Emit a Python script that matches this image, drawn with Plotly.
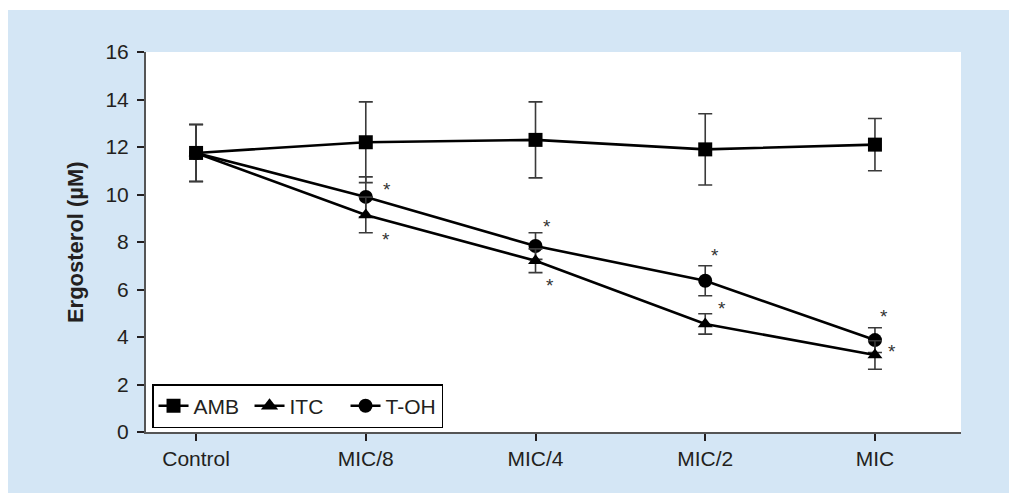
import plotly.graph_objects as go

# Treatment levels on the x axis
categories = ["Control", "MIC/8", "MIC/4", "MIC/2", "MIC"]
x_pos = list(range(len(categories)))

# Ergosterol (µM), mean ± SD per treatment
amb_mean = [11.75, 12.2, 12.3, 11.9, 12.1]
amb_sd = [1.2, 1.7, 1.6, 1.5, 1.1]

itc_mean = [11.75, 9.14, 7.21, 4.55, 3.24]
itc_sd = [1.2, 0.75, 0.5, 0.43, 0.6]

toh_mean = [11.75, 9.9, 7.83, 6.37, 3.87]
toh_sd = [1.2, 0.84, 0.56, 0.63, 0.52]

y_ticks = [0, 2, 4, 6, 8, 10, 12, 14, 16]

FONT = "Liberation Sans, Arial, Helvetica, sans-serif"
BG_BLUE = "#d4e6f5"
INK = "#231f20"

fig = go.Figure()


def add_series(name, mean, sd, symbol, size, legend_size, rank):
    fig.add_trace(go.Scatter(
        x=x_pos, y=mean, name=name, mode="lines+markers",
        line=dict(color="black", width=2.6),
        marker=dict(symbol=symbol, size=size, color="black"),
        error_y=dict(type="data", array=sd, visible=True,
                     color="#3a3a3a", thickness=1.6, width=7),
        showlegend=False,
    ))
    # legend entry with its own symbol size
    fig.add_trace(go.Scatter(
        x=[None], y=[None], name=name, mode="lines+markers",
        line=dict(color="black", width=2.6),
        marker=dict(symbol=symbol, size=legend_size, color="black"),
        legendrank=rank, hoverinfo="skip",
    ))


add_series("T-OH", toh_mean, toh_sd, "circle", 14, 14, 3)
add_series("ITC", itc_mean, itc_sd, "triangle-up", 13, 15, 2)
add_series("AMB", amb_mean, amb_sd, "square", 14, 14, 1)

# Significance markers beside the ITC and T-OH points (treated doses only)
toh_star_shift = [(21, 11), (11, 24), (10, 29), (9, 28)]
itc_star_shift = [(20, -21), (14, -21), (17, 19), (17, 8)]
for i, (dx, dy) in enumerate(toh_star_shift, start=1):
    fig.add_annotation(x=x_pos[i], y=toh_mean[i], text="*", showarrow=False,
                       xshift=dx, yshift=dy - 4,
                       font=dict(family=FONT, size=19, color="#333333"))
for i, (dx, dy) in enumerate(itc_star_shift, start=1):
    fig.add_annotation(x=x_pos[i], y=itc_mean[i], text="*", showarrow=False,
                       xshift=dx, yshift=dy - 4,
                       font=dict(family=FONT, size=19, color="#333333"))

# Y-axis title
fig.add_annotation(x=-0.087, y=0.5, xref="paper", yref="paper",
                   xanchor="center", yanchor="middle",
                   text="<b>Ergosterol (µM)</b>", textangle=-90,
                   showarrow=False,
                   font=dict(family=FONT, size=22, color=INK))

# White strips at the top and left edge of the panel
fig.add_shape(type="rect", xref="paper", yref="paper",
              x0=-0.2, x1=1.1, y0=1.1105, y1=1.2,
              fillcolor="white", line=dict(width=0), layer="below")
fig.add_shape(type="rect", xref="paper", yref="paper",
              x0=-0.2, x1=-0.1693, y0=-0.2, y1=1.2,
              fillcolor="white", line=dict(width=0), layer="below")

fig.update_layout(
    width=1009, height=493,
    margin=dict(l=146, r=48, t=52, b=61),
    paper_bgcolor=BG_BLUE,
    plot_bgcolor="white",
    font=dict(family=FONT, size=21, color=INK),
    showlegend=True,
    legend=dict(
        orientation="h", x=0.0074, y=0.126, xanchor="left", yanchor="top",
        bgcolor="white", bordercolor="black", borderwidth=1.5,
        font=dict(family=FONT, size=21, color=INK),
        itemwidth=30, traceorder="normal",
        entrywidth=51, entrywidthmode="pixels",
    ),
    xaxis=dict(
        range=[-0.295, 4.507], tickvals=x_pos, ticktext=categories,
        showline=True, linecolor="#555555", linewidth=2,
        ticks="outside", ticklen=7, tickwidth=2, tickcolor=INK,
        showgrid=False, zeroline=False, fixedrange=True,
        tickfont=dict(family=FONT, size=21, color=INK),
    ),
    yaxis=dict(
        range=[0, 16], tickvals=y_ticks,
        showline=True, linecolor="#555555", linewidth=2,
        ticks="outside", ticklen=7, tickwidth=2, tickcolor=INK,
        showgrid=False, zeroline=False, fixedrange=True,
        ticklabelstandoff=4,
        tickfont=dict(family=FONT, size=21, color=INK),
    ),
)

fig.write_html("out.html")
